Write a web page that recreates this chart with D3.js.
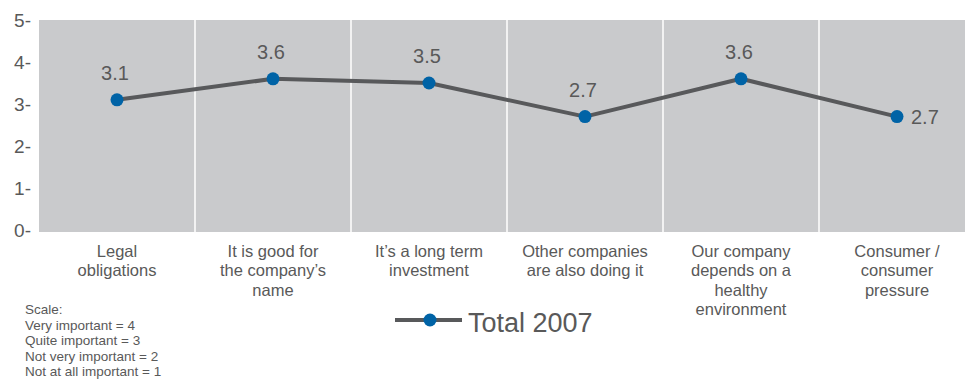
<!DOCTYPE html>
<html>
<head>
<meta charset="utf-8">
<script src="https://cdn.jsdelivr.net/npm/d3@7"></script>
<style>
  html, body { margin: 0; padding: 0; background: #ffffff; }
  svg { display: block; font-family: "Liberation Sans", Arial, sans-serif; }
</style>
</head>
<body>
<svg id="chart" width="965" height="381"></svg>
<script>
// Reasons for acting responsibly, average importance score
const categories = [
  ["Legal", "obligations"],
  ["It is good for", "the company\u2019s", "name"],
  ["It\u2019s a long term", "investment"],
  ["Other companies", "are also doing it"],
  ["Our company", "depends on a", "healthy", "environment"],
  ["Consumer /", "consumer", "pressure"]
];
const total2007 = [3.1, 3.6, 3.5, 2.7, 3.6, 2.7];
const yTicks = [0, 1, 2, 3, 4, 5];
const seriesName = "Total 2007";
const scaleNotes = [
  "Scale:",
  "Very important = 4",
  "Quite important = 3",
  "Not very important = 2",
  "Not at all important = 1"
];

const textColor = "#595959";
const lineColor = "#58595b";
const dotColor = "#0063a6";
const plotFill = "#c9cacc";

const svg = d3.select("#chart");
const plot = { left: 39, right: 975, top: 20, bottom: 230 };

const x = d3.scaleBand()
  .domain(d3.range(categories.length))
  .range([plot.left, plot.right])
  .padding(0);

const y = d3.scaleLinear()
  .domain([0, 5])
  .range([plot.bottom, plot.top]);

// Grey plot area
svg.append("rect")
  .attr("x", plot.left)
  .attr("y", plot.top)
  .attr("width", plot.right - plot.left)
  .attr("height", plot.bottom - plot.top + 2)
  .attr("fill", plotFill);

// White separators between categories
svg.append("g")
  .selectAll("line")
  .data(d3.range(1, categories.length))
  .join("line")
  .attr("x1", d => x(d))
  .attr("x2", d => x(d))
  .attr("y1", plot.top)
  .attr("y2", plot.bottom + 2)
  .attr("stroke", "#ffffff")
  .attr("stroke-width", 1.5);

// Y axis: tick labels with a trailing dash
const yAxis = svg.append("g")
  .attr("transform", `translate(${plot.left - 8},0)`)
  .call(d3.axisLeft(y).tickValues(yTicks).tickSize(0).tickPadding(0)
    .tickFormat(d => d + "-"));
yAxis.select(".domain").remove();
yAxis.selectAll("text")
  .attr("fill", textColor)
  .style("font-size", "19px")
  .style("font-family", "'Liberation Sans', Arial, sans-serif");

// Category labels under the plot
const catG = svg.append("g");
categories.forEach((lines, i) => {
  const t = catG.append("text")
    .attr("x", x(i) + x.bandwidth() / 2)
    .attr("y", 256.5)
    .attr("text-anchor", "middle")
    .attr("fill", textColor)
    .style("font-size", "16.5px");
  lines.forEach((ln, k) => {
    t.append("tspan")
      .attr("x", x(i) + x.bandwidth() / 2)
      .attr("dy", k === 0 ? 0 : 19.5)
      .text(ln);
  });
});

// Series line
const cx = i => x(i) + x.bandwidth() / 2;
const line = d3.line()
  .x((d, i) => cx(i))
  .y(d => y(d));

svg.append("path")
  .datum(total2007)
  .attr("d", line)
  .attr("fill", "none")
  .attr("stroke", lineColor)
  .attr("stroke-width", 4)
  .attr("stroke-linejoin", "round");

svg.append("g")
  .selectAll("circle")
  .data(total2007)
  .join("circle")
  .attr("cx", (d, i) => cx(i))
  .attr("cy", d => y(d))
  .attr("r", 6.5)
  .attr("fill", dotColor);

// Value labels: above each point, to the right of the last one
const last = total2007.length - 1;
svg.append("g")
  .selectAll("text")
  .data(total2007)
  .join("text")
  .attr("x", (d, i) => i === last ? cx(i) + 14 : cx(i) - 2)
  .attr("y", (d, i) => i === last ? y(d) + 7 : y(d) - 20)
  .attr("text-anchor", (d, i) => i === last ? "start" : "middle")
  .attr("fill", textColor)
  .style("font-size", "20px")
  .text(d => d3.format(".1f")(d));

// Legend
const legend = svg.append("g").attr("transform", "translate(395,320)");
legend.append("line")
  .attr("x1", 0).attr("x2", 67)
  .attr("y1", 0).attr("y2", 0)
  .attr("stroke", lineColor)
  .attr("stroke-width", 4);
legend.append("circle")
  .attr("cx", 35).attr("cy", 0).attr("r", 6.5)
  .attr("fill", dotColor);
legend.append("text")
  .attr("x", 73).attr("y", 12)
  .attr("fill", textColor)
  .style("font-size", "27px")
  .text(seriesName);

// Scale note
const note = svg.append("text")
  .attr("x", 25).attr("y", 314)
  .attr("fill", textColor)
  .style("font-size", "13.5px");
scaleNotes.forEach((s, k) => {
  note.append("tspan")
    .attr("x", 25)
    .attr("dy", k === 0 ? 0 : 15.6)
    .text(s);
});
</script>
</body>
</html>
